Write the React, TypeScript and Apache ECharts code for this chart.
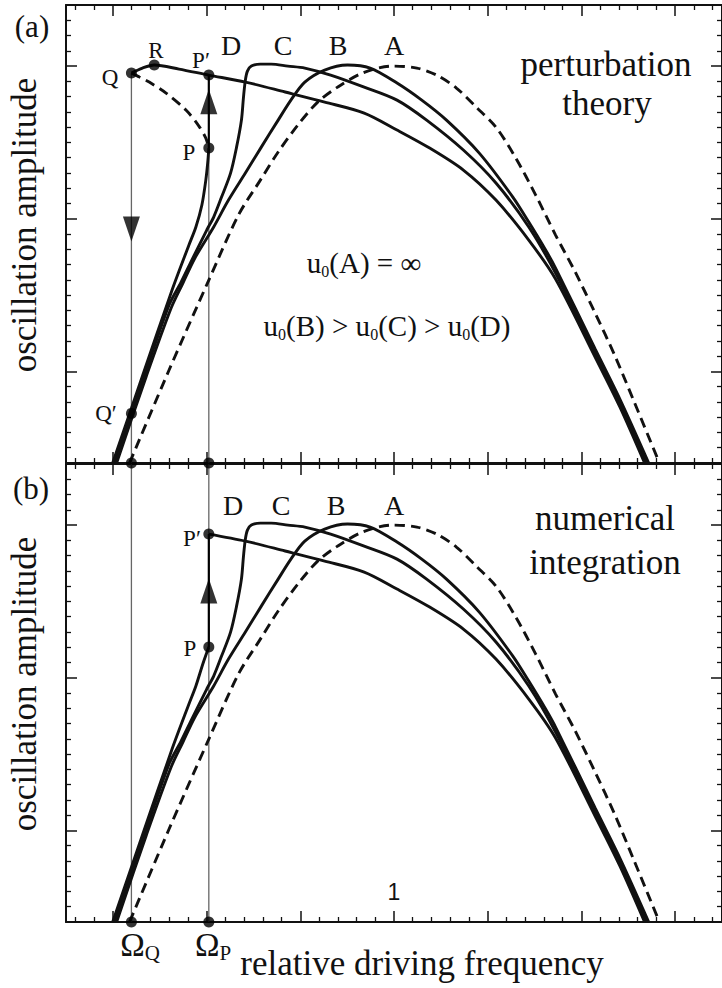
import React, { useEffect, useRef } from "react";
import * as echarts from "echarts";

// ---- axis ticks (relative driving frequency / oscillation amplitude) ----
const xMajorTicks = [0.85, 0.9, 0.95, 1.0, 1.05, 1.1, 1.15];
const xMinorTicks = [
  0.83, 0.84, 0.86, 0.87, 0.88, 0.89, 0.91, 0.92, 0.93, 0.94, 0.96, 0.97, 0.98, 0.99,
  1.01, 1.02, 1.03, 1.04, 1.06, 1.07, 1.08, 1.09, 1.11, 1.12, 1.13, 1.14, 1.16, 1.17,
];
const xLabelTicks = [1.0];
const yMajorTicks = [10, 20, 30];
const yMinorTicks = [
  5, 6, 7, 8, 9, 11, 12, 13, 14, 15, 16, 17, 18, 19, 21, 22, 23, 24, 25, 26, 27, 28, 29, 31, 32, 33,
];

const omegaQ = 0.8599;
const omegaP = 0.9012;

// ---- curves ----
const curveA = [
  [0.8589, 4.0], [0.88, 10.09], [0.9012, 15.98], [0.917, 20.24], [0.9287, 22.53],
  [0.9382, 24.37], [0.9487, 26.14], [0.9593, 27.64], [0.9699, 28.62], [0.9831, 29.54],
  [0.9989, 30.0], [1.0122, 29.87], [1.0227, 29.41], [1.0333, 28.56], [1.0439, 27.31],
  [1.0544, 26.0], [1.065, 23.97], [1.0756, 21.55], [1.0862, 18.93], [1.0967, 16.51],
  [1.1073, 13.82], [1.1179, 11.01], [1.1284, 7.93], [1.1416, 4.0],
];
const curveB = [
  [0.852, 4.0], [0.8679, 9.7], [0.8811, 14.15], [0.8874, 15.79], [0.8938, 17.43],
  [0.9038, 19.46], [0.9117, 21.22], [0.9207, 22.99], [0.9292, 24.69], [0.9382, 26.46],
  [0.945, 27.77], [0.9524, 28.95], [0.963, 29.74], [0.9752, 30.07], [0.9873, 29.87],
  [1.0016, 28.89], [1.0148, 27.77], [1.028, 26.46], [1.0455, 24.3], [1.0634, 21.42],
  [1.0719, 19.78], [1.0809, 17.95], [1.0862, 16.77], [1.1073, 11.47], [1.1205, 8.19],
  [1.1359, 4.0],
];
const curveC = [
  [0.851, 4.0], [0.8668, 9.7], [0.88, 14.35], [0.8864, 15.85], [0.8916, 17.16],
  [0.9001, 19.26], [0.9038, 20.11], [0.908, 21.42], [0.9128, 22.99], [0.916, 24.69],
  [0.9186, 26.46], [0.9197, 27.97], [0.9207, 29.08], [0.9218, 29.67], [0.9239, 30.0],
  [0.9287, 30.13], [0.9345, 30.13], [0.9434, 30.0], [0.9524, 29.87], [0.9662, 29.41],
  [0.9841, 28.62], [1.0016, 27.77], [1.0174, 26.46], [1.037, 24.5], [1.0544, 22.34],
  [1.0719, 19.46], [1.0862, 16.44], [1.1073, 11.2], [1.1205, 7.93], [1.1348, 4.0],
];
// D: perturbation theory (a)
const curveDRiseA = [
  [0.8499, 4.0], [0.8658, 9.7], [0.8816, 15.33], [0.8906, 18.28], [0.8943, 19.46],
  [0.8975, 20.9], [0.8996, 22.53], [0.9006, 23.65], [0.9012, 24.63],
];
const curveDUnstable = [
  [0.8599, 29.54], [0.8642, 29.28], [0.8694, 28.95], [0.8784, 28.23], [0.889, 27.12],
  [0.8959, 26.07], [0.8996, 25.28], [0.9012, 24.63],
];
const curveDUpperQR = [[0.8599, 29.54], [0.8658, 29.87], [0.8721, 30.07], [0.8853, 29.8]];
const curveDUpper = [
  [0.9012, 29.41], [0.9207, 28.95], [0.9419, 28.3], [0.963, 27.64], [0.9841, 26.92],
  [1.0016, 25.81], [1.019, 24.63], [1.037, 23.19], [1.0544, 21.22], [1.0719, 18.6],
  [1.0862, 16.05], [1.1073, 10.94], [1.1205, 7.67], [1.1337, 4.0],
];
// D: numerical integration (b)
const curveDRiseB = [
  [0.8499, 4.0], [0.8658, 9.7], [0.8816, 15.33], [0.8906, 18.28], [0.8943, 19.46],
  [0.898, 20.9], [0.9012, 22.01],
];

// ---- marked points ----
const pointsA = [
  [omegaQ, 29.54], // Q
  [0.8721, 30.07], // R
  [omegaP, 29.41], // P'
  [omegaP, 24.63], // P
  [omegaQ, 7.25], // Q'
  [omegaQ, 4.0],
  [omegaP, 4.0],
];
const pointsB = [
  [omegaP, 29.41], // P'
  [omegaP, 22.01], // P
  [omegaQ, 4.0],
  [omegaP, 4.0],
];
const arrowsDownA = [[omegaQ, 19.32]];
const arrowsUpA = [[omegaP, 27.67]];
const arrowsUpB = [[omegaP, 25.68]];

const SERIF = "Liberation Serif, serif";
const INK = "#111";

function xAxes(grid: number, oneLabel: boolean) {
  const base = {
    type: "value",
    gridIndex: grid,
    min: 0.825,
    max: 1.175,
    splitLine: { show: false },
    axisLabel: { show: false },
  };
  const line = { show: true, onZero: false, lineStyle: { color: INK, width: 2 } };
  const noLine = { show: false, onZero: false };
  const major = { show: true, inside: true, length: 11, customValues: xMajorTicks, lineStyle: { color: INK, width: 1.5 } };
  const minor = { show: true, inside: true, length: 5, customValues: xMinorTicks, lineStyle: { color: INK, width: 1.3 } };
  return [
    {
      ...base,
      position: "bottom",
      axisLine: line,
      axisTick: major,
      axisLabel: oneLabel
        ? {
            show: true,
            inside: true,
            customValues: xLabelTicks,
            formatter: () => "1",
            margin: 19,
            color: INK,
            fontSize: 23,
            fontFamily: "Liberation Sans, sans-serif",
          }
        : { show: false },
    },
    { ...base, position: "bottom", axisLine: noLine, axisTick: minor },
    { ...base, position: "top", axisLine: line, axisTick: major },
    { ...base, position: "top", axisLine: noLine, axisTick: minor },
  ];
}

function yAxes(grid: number) {
  const base = {
    type: "value",
    gridIndex: grid,
    min: 4,
    max: 34,
    splitLine: { show: false },
    axisLabel: { show: false },
  };
  const line = { show: true, onZero: false, lineStyle: { color: INK, width: 2 } };
  const noLine = { show: false, onZero: false };
  const major = { show: true, inside: true, length: 11, customValues: yMajorTicks, lineStyle: { color: INK, width: 1.5 } };
  const minor = { show: true, inside: true, length: 5, customValues: yMinorTicks, lineStyle: { color: INK, width: 1.3 } };
  return [
    { ...base, position: "left", axisLine: line, axisTick: major },
    { ...base, position: "left", axisLine: noLine, axisTick: minor },
    { ...base, position: "right", axisLine: line, axisTick: major },
    { ...base, position: "right", axisLine: noLine, axisTick: minor },
  ];
}

function curve(data: number[][], ax: number, opts: any = {}) {
  return {
    type: "line",
    xAxisIndex: ax,
    yAxisIndex: ax,
    data,
    symbol: "none",
    showSymbol: false,
    smooth: opts.smooth ?? 0.3,
    silent: true,
    z: opts.z ?? 3,
    lineStyle: {
      color: opts.color ?? INK,
      width: opts.width ?? 2.9,
      type: opts.dash ? [10, 6] : "solid",
    },
  };
}

function dots(data: number[][], ax: number) {
  return {
    type: "scatter",
    xAxisIndex: ax,
    yAxisIndex: ax,
    symbol: "circle",
    symbolSize: 11,
    clip: false,
    silent: true,
    z: 6,
    itemStyle: { color: "#000" },
    data,
  };
}

function arrows(data: number[][], ax: number, down: boolean) {
  return {
    type: "scatter",
    xAxisIndex: ax,
    yAxisIndex: ax,
    symbol: "triangle",
    symbolSize: [17, 25],
    symbolRotate: down ? 180 : 0,
    clip: false,
    silent: true,
    z: 5,
    itemStyle: { color: "#000" },
    data,
  };
}

function text(x: number, y: number, t: string, size: number, extra: any = {}) {
  return {
    type: "text",
    x,
    y,
    rotation: extra.rotation ?? 0,
    silent: true,
    z: 10,
    style: {
      text: t,
      fontSize: size,
      fontFamily: SERIF,
      fill: INK,
      align: "center",
      verticalAlign: "middle",
      textAlign: "center",
      textVerticalAlign: "middle",
      rich: extra.rich,
    },
  };
}

function buildOption() {
  const A = 0; // panel (a) axis index
  const B = 4; // panel (b) axis index
  const thin = { color: "#666", width: 1.3, smooth: false, z: 2 };
  const jump = { color: "#000", width: 2.2, smooth: false, z: 4 };
  const subRich = (big: number, small: number) => ({
    m: { fontSize: big, fontFamily: SERIF, lineHeight: big + 4, verticalAlign: "middle", color: INK },
    s: { fontSize: small, fontFamily: SERIF, lineHeight: small, verticalAlign: "bottom", color: INK },
  });

  return {
    animation: false,
    backgroundColor: "#fff",
    grid: [
      { left: 66, top: 5, width: 662, height: 458 },
      { left: 66, top: 464, width: 662, height: 458 },
    ],
    xAxis: [...xAxes(0, false), ...xAxes(1, true)],
    yAxis: [...yAxes(0), ...yAxes(1)],
    series: [
      // panel (a)
      curve(curveA, A, { dash: true }),
      curve(curveB, A),
      curve(curveC, A),
      curve(curveDRiseA, A),
      curve(curveDUnstable, A, { dash: true }),
      curve([...curveDUpperQR, ...curveDUpper], A),
      curve([[omegaQ, 29.54], [omegaQ, 4]], A, thin),
      curve([[omegaP, 4], [omegaP, 24.63]], A, thin),
      curve([[omegaP, 24.63], [omegaP, 29.41]], A, jump),
      arrows(arrowsDownA, A, true),
      arrows(arrowsUpA, A, false),
      dots(pointsA, A),
      // panel (b)
      curve(curveA, B, { dash: true }),
      curve(curveB, B),
      curve(curveC, B),
      curve(curveDRiseB, B),
      curve(curveDUpper, B),
      curve([[omegaQ, 4], [omegaQ, 34]], B, thin),
      curve([[omegaP, 4], [omegaP, 34]], B, thin),
      curve([[omegaP, 22.01], [omegaP, 29.41]], B, jump),
      arrows(arrowsUpB, B, false),
      dots(pointsB, B),
    ],
    graphic: [
      text(32, 26, "(a)", 31),
      text(31, 488, "(b)", 31),
      text(24, 225, "oscillation amplitude", 35, { rotation: Math.PI / 2 }),
      text(24, 684, "oscillation amplitude", 35, { rotation: Math.PI / 2 }),
      text(606, 64, "perturbation", 35),
      text(607, 103, "theory", 35),
      text(605, 518, "numerical", 35),
      text(605, 562, "integration", 35),
      text(364, 263, "{m|u}{s|0}{m|(A) = ∞}", 29, { rich: subRich(29, 16) }),
      text(387, 326, "{m|u}{s|0}{m|(B) > u}{s|0}{m|(C) > u}{s|0}{m|(D)}", 29, { rich: subRich(29, 16) }),
      text(231, 45, "D", 28),
      text(283, 45, "C", 28),
      text(338, 45, "B", 28),
      text(394, 45, "A", 28),
      text(233, 505, "D", 28),
      text(281, 505, "C", 28),
      text(336, 505, "B", 28),
      text(394, 505, "A", 28),
      // point labels
      text(110, 77, "Q", 23),
      text(156, 50, "R", 23),
      text(201, 60, "P′", 23),
      text(189, 152, "P", 23),
      text(106, 413, "Q′", 23),
      text(192, 538, "P′", 23),
      text(190, 648, "P", 23),
      text(140, 945, "{m|Ω}{s|Q}", 33, { rich: subRich(33, 21) }),
      text(213, 945, "{m|Ω}{s|P}", 33, { rich: subRich(33, 21) }),
      text(422, 963, "relative driving frequency", 35),
    ],
  };
}

export default function App() {
  const ref = useRef<HTMLDivElement>(null);
  useEffect(() => {
    if (!ref.current) return;
    const chart = echarts.init(ref.current, null, { renderer: "svg" });
    chart.setOption(buildOption() as any);
    return () => chart.dispose();
  }, []);
  return (
    <div
      ref={ref}
      style={{ position: "absolute", left: 0, top: 0, width: 722, height: 988, background: "#fff" }}
    />
  );
}
